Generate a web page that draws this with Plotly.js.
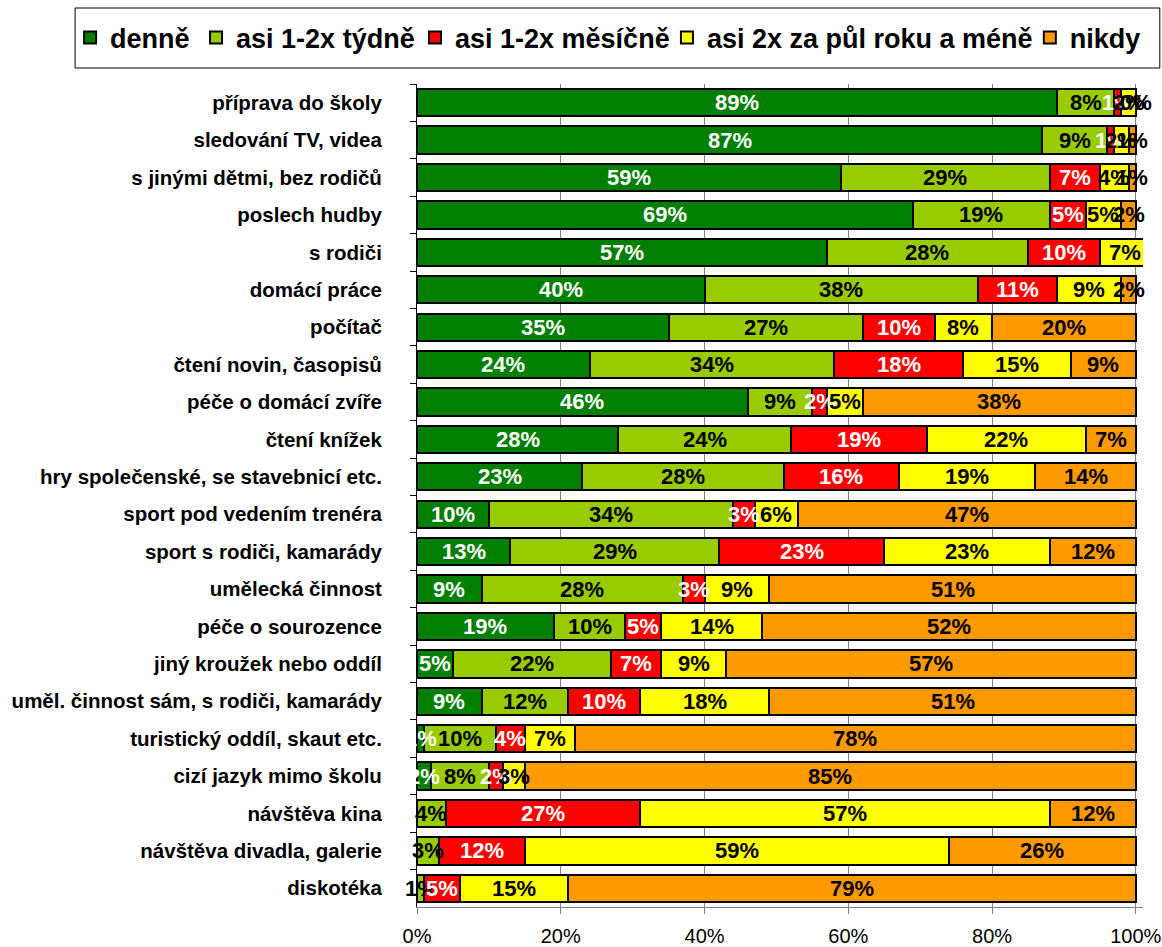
<!DOCTYPE html>
<html>
<head>
<meta charset="utf-8">
<script src="https://cdn.plot.ly/plotly-3.0.1.min.js"></script>
<style>html,body{margin:0;padding:0;background:#fff}#chart{width:1162px;height:947px}</style>
</head>
<body>
<div id="chart"></div>
<script>
const categories = [
  "příprava do školy",
  "sledování TV, videa",
  "s jinými dětmi, bez rodičů",
  "poslech hudby",
  "s rodiči",
  "domácí práce",
  "počítač",
  "čtení novin, časopisů",
  "péče o domácí zvíře",
  "čtení knížek",
  "hry společenské, se stavebnicí etc.",
  "sport pod vedením trenéra",
  "sport s rodiči, kamarády",
  "umělecká činnost",
  "péče o sourozence",
  "jiný kroužek nebo oddíl",
  "uměl. činnost sám, s rodiči, kamarády",
  "turistický oddíl, skaut etc.",
  "cizí jazyk mimo školu",
  "návštěva kina",
  "návštěva divadla, galerie",
  "diskotéka"
];
const seriesNames = ["denně", "asi 1-2x týdně", "asi 1-2x měsíčně", "asi 2x za půl roku a méně", "nikdy"];
const denne   = [89, 87, 59, 69, 57, 40, 35, 24, 46, 28, 23, 10, 13, 9, 19, 5, 9, 1, 2, null, null, null];
const tydne   = [8, 9, 29, 19, 28, 38, 27, 34, 9, 24, 28, 34, 29, 28, 10, 22, 12, 10, 8, 4, 3, 1];
const mesicne = [1, 1, 7, 5, 10, 11, 10, 18, 2, 19, 16, 3, 23, 3, 5, 7, 10, 4, 2, 27, 12, 5];
const pulrok  = [2, 2, 4, 5, 7, 9, 8, 15, 5, 22, 19, 6, 23, 9, 14, 9, 18, 7, 3, 57, 59, 15];
const nikdy   = [0, 1, 1, 2, null, 2, 20, 9, 38, 7, 14, 47, 12, 51, 52, 57, 51, 78, 85, 12, 26, 79];
const xTicks  = [0, 20, 40, 60, 80, 100];
const xTickLabels = ["0%", "20%", "40%", "60%", "80%", "100%"];

const seriesValues = [denne, tydne, mesicne, pulrok, nikdy];
const colors = ["#007F00", "#99CC00", "#FF0000", "#FFFF00", "#FF9900"];
const textColors = ["#ffffff", "#000000", "#ffffff", "#000000", "#000000"];
const FONT = "Liberation Sans, Arial, sans-serif";

const W = 1162, H = 947;
const ML = 417, MT = 84, MB = 40;
const XMAX = 101;
const PW = 7.19 * XMAX;
const MR = W - ML - PW;
const PH = H - MT - MB;

// legend entry text starts (px) in the reference
const legendTextX = [110, 236, 455, 707, 1070];
const legendKeys = ["legend", "legend2", "legend3", "legend4", "legend5"];

const traces = seriesValues.map((vals, i) => ({
  type: "bar",
  orientation: "h",
  name: seriesNames[i],
  legend: legendKeys[i],
  y: categories,
  x: vals,
  textposition: "none",
  marker: {color: colors[i], line: {color: "#000000", width: 2}},
  hoverinfo: "skip"
}));

// value labels, positioned on the data scale at the middle of each segment
const annotations = [];
categories.forEach((cat, j) => {
  let start = 0;
  seriesValues.forEach((vals, i) => {
    const v = vals[j];
    if (v === null) return;
    annotations.push({
      xref: "x", yref: "y",
      x: start + v / 2, y: cat,
      text: v + "%",
      showarrow: false,
      xanchor: "center", yanchor: "middle",
      font: {family: FONT, size: 22, color: textColors[i], weight: "bold"}
    });
    start += v;
  });
});

const layout = {
  width: W, height: H,
  barmode: "stack",
  bargap: 0.27,
  paper_bgcolor: "#ffffff",
  plot_bgcolor: "#ffffff",
  margin: {l: ML, r: MR, t: MT, b: MB, pad: 0, autoexpand: false},
  font: {family: FONT, color: "#000000"},
  showlegend: true,
  annotations: annotations,
  shapes: [{
    type: "rect", xref: "paper", yref: "paper",
    x0: (75 - ML) / PW, x1: (1160 - ML) / PW,
    y0: 1 + (MT - 68) / PH, y1: 1 + (MT - 8) / PH,
    line: {color: "#000000", width: 1}, fillcolor: "rgba(0,0,0,0)", layer: "below"
  }],
  xaxis: {
    range: [0, XMAX],
    tickvals: xTicks,
    ticktext: xTickLabels,
    tickfont: {family: FONT, size: 20, color: "#000000"},
    showgrid: true, gridcolor: "#808080", gridwidth: 1,
    zeroline: false,
    showline: true, linecolor: "#808080", linewidth: 1,
    ticks: "outside", ticklen: 6, tickcolor: "#808080",
    ticklabelstandoff: 5,
    fixedrange: true
  },
  yaxis: {
    autorange: "reversed",
    type: "category",
    tickfont: {family: FONT, size: 20.5, color: "#000000", weight: "bold"},
    showline: true, linecolor: "#000000", linewidth: 1,
    ticks: "outside", ticklen: 6, tickcolor: "#000000",
    tickson: "boundaries",
    ticklabelstandoff: 30,
    showgrid: false, zeroline: false,
    fixedrange: true
  }
};

legendKeys.forEach((key, i) => {
  layout[key] = {
    orientation: "h",
    x: (legendTextX[i] - 40 - ML) / PW, xanchor: "left",
    y: 1 + (MT - 38) / PH, yanchor: "middle",
    bgcolor: "rgba(0,0,0,0)",
    borderwidth: 0,
    font: {family: FONT, size: 27, color: "#000000", weight: "bold"},
    itemwidth: 30
  };
});

Plotly.newPlot("chart", traces, layout, {displayModeBar: false, staticPlot: true});
</script>
</body>
</html>
